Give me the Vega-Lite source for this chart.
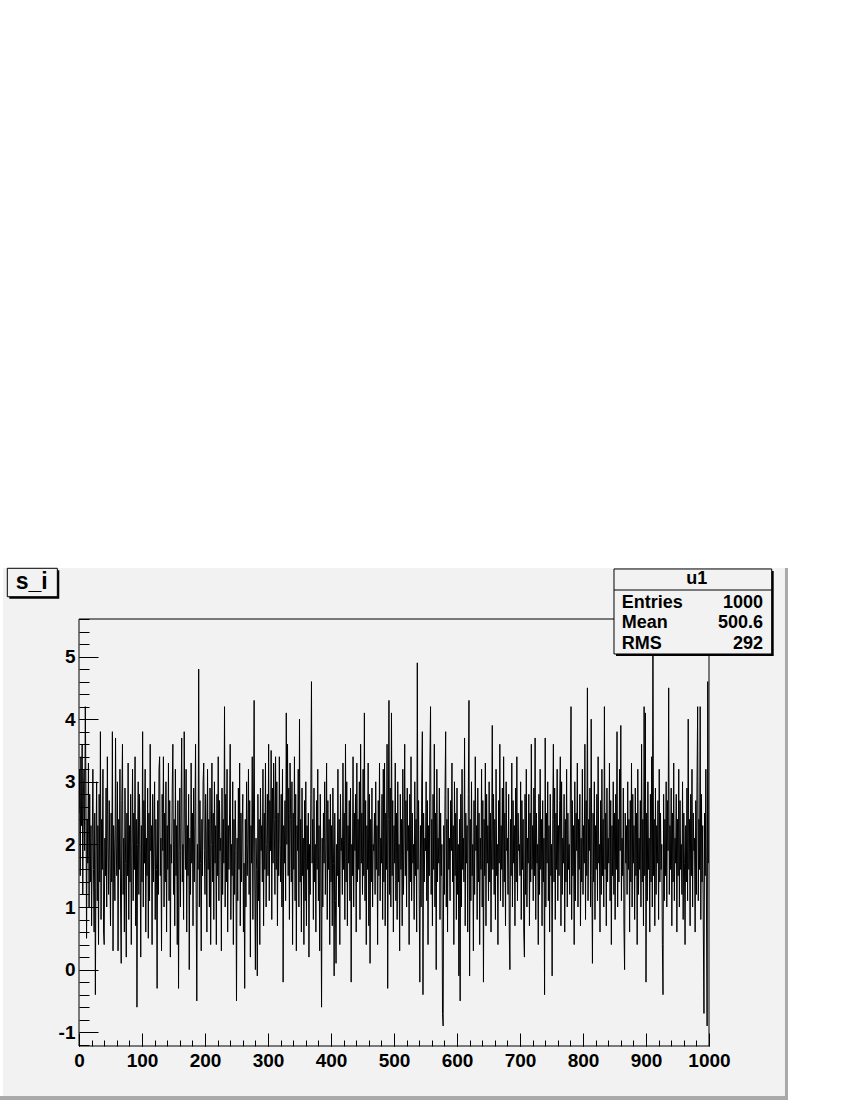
{
"$schema":"https://vega.github.io/schema/vega-lite/v6.json",
"width":630,"height":427,
"autosize":{"type":"none"},
"padding":{"left":79,"top":619,"right":141,"bottom":54},
"background":"white",
"config":{"view":{"stroke":null},"text":{"font":"Liberation Sans","fontWeight":"bold","color":"black"}},
"data":{"values":[
{"i":0,"s":2.5},{"i":1,"s":3.2},{"i":2,"s":1.5},{"i":3,"s":3.4},{"i":4,"s":2.3},{"i":5,"s":3.6},{"i":6,"s":1.2},{"i":7,"s":2.8},{"i":8,"s":3.2},{"i":9,"s":1.9},
{"i":10,"s":4.2},{"i":11,"s":2.9},{"i":12,"s":0.5},{"i":13,"s":2.4},{"i":14,"s":1.7},{"i":15,"s":3.3},{"i":16,"s":1.0},{"i":17,"s":2.8},{"i":18,"s":1.4},{"i":19,"s":2.3},
{"i":20,"s":0.7},{"i":21,"s":2.0},{"i":22,"s":3.2},{"i":23,"s":1.6},{"i":24,"s":0.6},{"i":25,"s":2.5},{"i":26,"s":-0.4},{"i":27,"s":1.9},{"i":28,"s":3.0},{"i":29,"s":1.1},
{"i":30,"s":2.3},{"i":31,"s":0.4},{"i":32,"s":2.8},{"i":33,"s":1.4},{"i":34,"s":3.8},{"i":35,"s":0.8},{"i":36,"s":2.4},{"i":37,"s":1.6},{"i":38,"s":3.2},{"i":39,"s":0.6},
{"i":40,"s":0.4},{"i":41,"s":2.1},{"i":42,"s":1.5},{"i":43,"s":2.9},{"i":44,"s":1.0},{"i":45,"s":3.4},{"i":46,"s":2.0},{"i":47,"s":1.2},{"i":48,"s":2.7},{"i":49,"s":1.7},
{"i":50,"s":0.7},{"i":51,"s":2.5},{"i":52,"s":1.4},{"i":53,"s":3.8},{"i":54,"s":0.3},{"i":55,"s":2.3},{"i":56,"s":1.9},{"i":57,"s":1.1},{"i":58,"s":3.7},{"i":59,"s":2.0},
{"i":60,"s":1.5},{"i":61,"s":3.0},{"i":62,"s":0.3},{"i":63,"s":2.4},{"i":64,"s":1.6},{"i":65,"s":3.2},{"i":66,"s":1.0},{"i":67,"s":0.1},{"i":68,"s":2.7},{"i":69,"s":3.6},
{"i":70,"s":1.2},{"i":71,"s":2.1},{"i":72,"s":0.6},{"i":73,"s":2.9},{"i":74,"s":1.7},{"i":75,"s":0.2},{"i":76,"s":2.5},{"i":77,"s":1.5},{"i":78,"s":3.3},{"i":79,"s":0.8},
{"i":80,"s":2.3},{"i":81,"s":1.4},{"i":82,"s":2.8},{"i":83,"s":0.4},{"i":84,"s":2.0},{"i":85,"s":3.2},{"i":86,"s":1.1},{"i":87,"s":2.5},{"i":88,"s":1.6},{"i":89,"s":3.4},
{"i":90,"s":0.7},{"i":91,"s":2.4},{"i":92,"s":-0.6},{"i":93,"s":2.0},{"i":94,"s":3.0},{"i":95,"s":1.2},{"i":96,"s":2.8},{"i":97,"s":1.9},{"i":98,"s":0.2},{"i":99,"s":2.3},
{"i":100,"s":1.4},{"i":101,"s":3.8},{"i":102,"s":1.0},{"i":103,"s":2.7},{"i":104,"s":1.7},{"i":105,"s":3.2},{"i":106,"s":0.6},{"i":107,"s":2.1},{"i":108,"s":1.5},{"i":109,"s":2.9},
{"i":110,"s":0.5},{"i":111,"s":2.5},{"i":112,"s":1.1},{"i":113,"s":3.6},{"i":114,"s":1.9},{"i":115,"s":2.3},{"i":116,"s":0.4},{"i":117,"s":2.8},{"i":118,"s":1.4},{"i":119,"s":2.0},
{"i":120,"s":3.0},{"i":121,"s":0.8},{"i":122,"s":2.4},{"i":123,"s":1.6},{"i":124,"s":-0.3},{"i":125,"s":2.7},{"i":126,"s":1.2},{"i":127,"s":3.2},{"i":128,"s":3.4},{"i":129,"s":1.5},
{"i":130,"s":2.1},{"i":131,"s":0.3},{"i":132,"s":2.8},{"i":133,"s":1.9},{"i":134,"s":3.4},{"i":135,"s":1.0},{"i":136,"s":2.5},{"i":137,"s":1.4},{"i":138,"s":3.0},{"i":139,"s":0.6},
{"i":140,"s":2.3},{"i":141,"s":1.6},{"i":142,"s":3.3},{"i":143,"s":1.1},{"i":144,"s":2.7},{"i":145,"s":0.2},{"i":146,"s":2.0},{"i":147,"s":1.7},{"i":148,"s":2.9},{"i":149,"s":3.6},
{"i":150,"s":1.2},{"i":151,"s":2.4},{"i":152,"s":0.7},{"i":153,"s":3.2},{"i":154,"s":1.5},{"i":155,"s":2.3},{"i":156,"s":0.4},{"i":157,"s":2.7},{"i":158,"s":-0.3},{"i":159,"s":1.9},
{"i":160,"s":2.9},{"i":161,"s":1.0},{"i":162,"s":2.5},{"i":163,"s":3.7},{"i":164,"s":1.4},{"i":165,"s":2.0},{"i":166,"s":0.8},{"i":167,"s":3.8},{"i":168,"s":2.4},{"i":169,"s":1.6},
{"i":170,"s":3.2},{"i":171,"s":0.6},{"i":172,"s":2.3},{"i":173,"s":1.5},{"i":174,"s":2.8},{"i":175,"s":0.0},{"i":176,"s":2.1},{"i":177,"s":1.2},{"i":178,"s":3.3},{"i":179,"s":1.7},
{"i":180,"s":2.5},{"i":181,"s":0.7},{"i":182,"s":2.9},{"i":183,"s":1.4},{"i":184,"s":2.3},{"i":185,"s":3.6},{"i":186,"s":1.1},{"i":187,"s":-0.5},{"i":188,"s":2.0},{"i":189,"s":1.6},
{"i":190,"s":4.8},{"i":191,"s":1.0},{"i":192,"s":2.7},{"i":193,"s":1.7},{"i":194,"s":0.3},{"i":195,"s":2.4},{"i":196,"s":1.5},{"i":197,"s":3.0},{"i":198,"s":3.3},{"i":199,"s":1.9},
{"i":200,"s":1.2},{"i":201,"s":2.8},{"i":202,"s":2.1},{"i":203,"s":0.6},{"i":204,"s":3.2},{"i":205,"s":1.6},{"i":206,"s":2.4},{"i":207,"s":1.0},{"i":208,"s":2.9},{"i":209,"s":0.4},
{"i":210,"s":2.0},{"i":211,"s":3.3},{"i":212,"s":1.4},{"i":213,"s":2.5},{"i":214,"s":0.8},{"i":215,"s":3.0},{"i":216,"s":1.7},{"i":217,"s":2.3},{"i":218,"s":0.4},{"i":219,"s":2.8},
{"i":220,"s":1.5},{"i":221,"s":3.4},{"i":222,"s":1.1},{"i":223,"s":2.7},{"i":224,"s":1.9},{"i":225,"s":2.1},{"i":226,"s":0.3},{"i":227,"s":2.9},{"i":228,"s":1.2},{"i":229,"s":2.4},
{"i":230,"s":1.7},{"i":231,"s":4.2},{"i":232,"s":1.0},{"i":233,"s":2.8},{"i":234,"s":1.4},{"i":235,"s":3.2},{"i":236,"s":0.6},{"i":237,"s":2.3},{"i":238,"s":1.6},{"i":239,"s":2.5},
{"i":240,"s":3.6},{"i":241,"s":0.8},{"i":242,"s":2.0},{"i":243,"s":1.5},{"i":244,"s":3.0},{"i":245,"s":0.4},{"i":246,"s":2.4},{"i":247,"s":1.2},{"i":248,"s":2.7},{"i":249,"s":1.9},
{"i":250,"s":-0.5},{"i":251,"s":2.1},{"i":252,"s":1.1},{"i":253,"s":2.9},{"i":254,"s":1.6},{"i":255,"s":3.3},{"i":256,"s":0.7},{"i":257,"s":2.5},{"i":258,"s":1.4},{"i":259,"s":2.3},
{"i":260,"s":2.8},{"i":261,"s":0.6},{"i":262,"s":1.7},{"i":263,"s":-0.3},{"i":264,"s":2.4},{"i":265,"s":1.0},{"i":266,"s":3.0},{"i":267,"s":1.5},{"i":268,"s":2.0},{"i":269,"s":3.2},
{"i":270,"s":1.2},{"i":271,"s":2.7},{"i":272,"s":0.2},{"i":273,"s":2.3},{"i":274,"s":1.7},{"i":275,"s":3.4},{"i":276,"s":0.8},{"i":277,"s":2.5},{"i":278,"s":4.3},{"i":279,"s":1.4},
{"i":280,"s":0.0},{"i":281,"s":2.1},{"i":282,"s":1.6},{"i":283,"s":-0.1},{"i":284,"s":2.8},{"i":285,"s":1.1},{"i":286,"s":2.4},{"i":287,"s":0.4},{"i":288,"s":2.9},{"i":289,"s":1.9},
{"i":290,"s":2.3},{"i":291,"s":1.4},{"i":292,"s":3.2},{"i":293,"s":0.7},{"i":294,"s":2.5},{"i":295,"s":1.6},{"i":296,"s":3.3},{"i":297,"s":1.0},{"i":298,"s":2.0},{"i":299,"s":2.8},
{"i":300,"s":1.5},{"i":301,"s":3.6},{"i":302,"s":1.1},{"i":303,"s":2.7},{"i":304,"s":1.9},{"i":305,"s":3.5},{"i":306,"s":0.8},{"i":307,"s":2.9},{"i":308,"s":1.7},{"i":309,"s":3.3},
{"i":310,"s":2.4},{"i":311,"s":1.2},{"i":312,"s":3.4},{"i":313,"s":1.6},{"i":314,"s":3.0},{"i":315,"s":0.7},{"i":316,"s":2.5},{"i":317,"s":1.5},{"i":318,"s":3.4},{"i":319,"s":2.0},
{"i":320,"s":1.4},{"i":321,"s":2.8},{"i":322,"s":1.0},{"i":323,"s":3.2},{"i":324,"s":-0.2},{"i":325,"s":2.3},{"i":326,"s":1.7},{"i":327,"s":2.7},{"i":328,"s":1.1},{"i":329,"s":4.1},
{"i":330,"s":2.0},{"i":331,"s":3.6},{"i":332,"s":1.5},{"i":333,"s":2.9},{"i":334,"s":0.8},{"i":335,"s":3.3},{"i":336,"s":2.4},{"i":337,"s":1.4},{"i":338,"s":3.0},{"i":339,"s":0.4},
{"i":340,"s":2.5},{"i":341,"s":1.6},{"i":342,"s":3.4},{"i":343,"s":1.1},{"i":344,"s":2.8},{"i":345,"s":0.3},{"i":346,"s":2.3},{"i":347,"s":1.9},{"i":348,"s":3.2},{"i":349,"s":1.0},
{"i":350,"s":4.0},{"i":351,"s":1.4},{"i":352,"s":2.4},{"i":353,"s":0.6},{"i":354,"s":2.9},{"i":355,"s":1.5},{"i":356,"s":2.1},{"i":357,"s":0.4},{"i":358,"s":2.7},{"i":359,"s":1.1},
{"i":360,"s":3.0},{"i":361,"s":0.7},{"i":362,"s":2.3},{"i":363,"s":1.6},{"i":364,"s":2.5},{"i":365,"s":0.2},{"i":366,"s":2.0},{"i":367,"s":1.2},{"i":368,"s":2.8},{"i":369,"s":4.6},
{"i":370,"s":1.7},{"i":371,"s":2.4},{"i":372,"s":0.8},{"i":373,"s":2.9},{"i":374,"s":1.4},{"i":375,"s":2.0},{"i":376,"s":0.6},{"i":377,"s":2.7},{"i":378,"s":1.6},{"i":379,"s":3.2},
{"i":380,"s":1.1},{"i":381,"s":2.3},{"i":382,"s":0.3},{"i":383,"s":2.8},{"i":384,"s":1.5},{"i":385,"s":-0.6},{"i":386,"s":2.1},{"i":387,"s":1.0},{"i":388,"s":2.5},{"i":389,"s":1.7},
{"i":390,"s":3.0},{"i":391,"s":1.2},{"i":392,"s":2.0},{"i":393,"s":3.3},{"i":394,"s":0.8},{"i":395,"s":2.7},{"i":396,"s":1.6},{"i":397,"s":2.4},{"i":398,"s":0.4},{"i":399,"s":2.8},
{"i":400,"s":1.4},{"i":401,"s":2.3},{"i":402,"s":0.7},{"i":403,"s":2.9},{"i":404,"s":1.7},{"i":405,"s":-0.1},{"i":406,"s":2.5},{"i":407,"s":1.1},{"i":408,"s":0.1},{"i":409,"s":2.0},
{"i":410,"s":1.5},{"i":411,"s":3.2},{"i":412,"s":1.0},{"i":413,"s":2.4},{"i":414,"s":0.4},{"i":415,"s":2.8},{"i":416,"s":1.9},{"i":417,"s":2.1},{"i":418,"s":1.2},{"i":419,"s":3.3},
{"i":420,"s":1.6},{"i":421,"s":2.5},{"i":422,"s":0.8},{"i":423,"s":3.6},{"i":424,"s":1.4},{"i":425,"s":3.0},{"i":426,"s":0.7},{"i":427,"s":2.3},{"i":428,"s":1.7},{"i":429,"s":2.7},
{"i":430,"s":1.1},{"i":431,"s":2.9},{"i":432,"s":-0.2},{"i":433,"s":2.0},{"i":434,"s":1.5},{"i":435,"s":3.4},{"i":436,"s":1.0},{"i":437,"s":2.5},{"i":438,"s":1.9},{"i":439,"s":2.8},
{"i":440,"s":0.6},{"i":441,"s":3.3},{"i":442,"s":1.4},{"i":443,"s":2.4},{"i":444,"s":1.6},{"i":445,"s":3.0},{"i":446,"s":0.8},{"i":447,"s":3.6},{"i":448,"s":1.7},{"i":449,"s":2.5},
{"i":450,"s":1.2},{"i":451,"s":3.2},{"i":452,"s":1.5},{"i":453,"s":4.1},{"i":454,"s":1.1},{"i":455,"s":2.7},{"i":456,"s":0.4},{"i":457,"s":2.3},{"i":458,"s":1.6},{"i":459,"s":3.3},
{"i":460,"s":0.7},{"i":461,"s":2.8},{"i":462,"s":0.1},{"i":463,"s":2.4},{"i":464,"s":1.4},{"i":465,"s":2.9},{"i":466,"s":1.0},{"i":467,"s":2.0},{"i":468,"s":1.9},{"i":469,"s":2.5},
{"i":470,"s":1.2},{"i":471,"s":3.0},{"i":472,"s":1.6},{"i":473,"s":2.3},{"i":474,"s":0.4},{"i":475,"s":2.7},{"i":476,"s":1.5},{"i":477,"s":3.3},{"i":478,"s":1.1},{"i":479,"s":2.1},
{"i":480,"s":1.7},{"i":481,"s":2.8},{"i":482,"s":0.8},{"i":483,"s":3.2},{"i":484,"s":1.4},{"i":485,"s":3.3},{"i":486,"s":0.7},{"i":487,"s":2.5},{"i":488,"s":1.6},{"i":489,"s":3.6},
{"i":490,"s":-0.3},{"i":491,"s":2.4},{"i":492,"s":4.3},{"i":493,"s":1.2},{"i":494,"s":2.9},{"i":495,"s":1.0},{"i":496,"s":4.1},{"i":497,"s":1.5},{"i":498,"s":2.7},{"i":499,"s":0.6},
{"i":500,"s":2.3},{"i":501,"s":1.7},{"i":502,"s":3.3},{"i":503,"s":1.1},{"i":504,"s":2.5},{"i":505,"s":0.8},{"i":506,"s":3.0},{"i":507,"s":1.4},{"i":508,"s":2.0},{"i":509,"s":0.3},
{"i":510,"s":2.8},{"i":511,"s":1.6},{"i":512,"s":2.4},{"i":513,"s":0.7},{"i":514,"s":3.2},{"i":515,"s":1.2},{"i":516,"s":2.1},{"i":517,"s":3.6},{"i":518,"s":1.5},{"i":519,"s":2.7},
{"i":520,"s":1.0},{"i":521,"s":2.9},{"i":522,"s":1.9},{"i":523,"s":2.3},{"i":524,"s":0.4},{"i":525,"s":2.8},{"i":526,"s":1.4},{"i":527,"s":3.4},{"i":528,"s":1.1},{"i":529,"s":2.5},
{"i":530,"s":1.7},{"i":531,"s":2.0},{"i":532,"s":0.8},{"i":533,"s":3.0},{"i":534,"s":1.5},{"i":535,"s":2.4},{"i":536,"s":0.6},{"i":537,"s":4.9},{"i":538,"s":1.6},{"i":539,"s":2.7},
{"i":540,"s":1.2},{"i":541,"s":-0.2},{"i":542,"s":2.3},{"i":543,"s":1.0},{"i":544,"s":2.9},{"i":545,"s":3.8},{"i":546,"s":-0.4},{"i":547,"s":2.5},{"i":548,"s":1.4},{"i":549,"s":2.1},
{"i":550,"s":1.9},{"i":551,"s":3.0},{"i":552,"s":1.1},{"i":553,"s":2.7},{"i":554,"s":0.4},{"i":555,"s":2.3},{"i":556,"s":1.5},{"i":557,"s":3.3},{"i":558,"s":4.2},{"i":559,"s":1.2},
{"i":560,"s":2.4},{"i":561,"s":0.7},{"i":562,"s":2.8},{"i":563,"s":1.6},{"i":564,"s":3.6},{"i":565,"s":1.0},{"i":566,"s":2.5},{"i":567,"s":0.0},{"i":568,"s":3.2},{"i":569,"s":1.4},
{"i":570,"s":2.1},{"i":571,"s":1.7},{"i":572,"s":2.9},{"i":573,"s":0.8},{"i":574,"s":2.5},{"i":575,"s":1.5},{"i":576,"s":2.0},{"i":577,"s":-0.7},{"i":578,"s":-0.9},{"i":579,"s":2.3},
{"i":580,"s":1.2},{"i":581,"s":2.8},{"i":582,"s":3.8},{"i":583,"s":1.0},{"i":584,"s":2.4},{"i":585,"s":0.6},{"i":586,"s":2.9},{"i":587,"s":1.6},{"i":588,"s":2.1},{"i":589,"s":1.1},
{"i":590,"s":2.7},{"i":591,"s":1.9},{"i":592,"s":3.3},{"i":593,"s":1.4},{"i":594,"s":2.3},{"i":595,"s":0.4},{"i":596,"s":3.0},{"i":597,"s":1.5},{"i":598,"s":2.5},{"i":599,"s":0.8},
{"i":600,"s":2.9},{"i":601,"s":1.2},{"i":602,"s":2.0},{"i":603,"s":-0.1},{"i":604,"s":2.4},{"i":605,"s":-0.5},{"i":606,"s":2.8},{"i":607,"s":1.0},{"i":608,"s":3.2},{"i":609,"s":1.6},
{"i":610,"s":2.1},{"i":611,"s":1.4},{"i":612,"s":3.7},{"i":613,"s":0.7},{"i":614,"s":2.5},{"i":615,"s":1.7},{"i":616,"s":2.3},{"i":617,"s":0.6},{"i":618,"s":2.8},{"i":619,"s":4.3},
{"i":620,"s":-0.1},{"i":621,"s":2.4},{"i":622,"s":1.1},{"i":623,"s":3.0},{"i":624,"s":1.5},{"i":625,"s":2.0},{"i":626,"s":0.3},{"i":627,"s":2.7},{"i":628,"s":1.2},{"i":629,"s":3.4},
{"i":630,"s":1.9},{"i":631,"s":2.3},{"i":632,"s":0.8},{"i":633,"s":2.9},{"i":634,"s":1.4},{"i":635,"s":2.5},{"i":636,"s":0.4},{"i":637,"s":2.1},{"i":638,"s":1.6},{"i":639,"s":3.2},
{"i":640,"s":1.0},{"i":641,"s":2.7},{"i":642,"s":-0.2},{"i":643,"s":2.4},{"i":644,"s":1.5},{"i":645,"s":3.3},{"i":646,"s":0.7},{"i":647,"s":2.8},{"i":648,"s":1.7},{"i":649,"s":2.3},
{"i":650,"s":1.1},{"i":651,"s":3.0},{"i":652,"s":1.4},{"i":653,"s":2.5},{"i":654,"s":0.6},{"i":655,"s":2.1},{"i":656,"s":3.9},{"i":657,"s":1.6},{"i":658,"s":2.8},{"i":659,"s":1.2},
{"i":660,"s":2.4},{"i":661,"s":0.8},{"i":662,"s":3.2},{"i":663,"s":1.5},{"i":664,"s":2.0},{"i":665,"s":0.4},{"i":666,"s":2.7},{"i":667,"s":1.7},{"i":668,"s":3.6},{"i":669,"s":1.1},
{"i":670,"s":2.3},{"i":671,"s":1.6},{"i":672,"s":2.9},{"i":673,"s":1.0},{"i":674,"s":3.4},{"i":675,"s":1.4},{"i":676,"s":2.5},{"i":677,"s":0.7},{"i":678,"s":3.0},{"i":679,"s":1.9},
{"i":680,"s":2.1},{"i":681,"s":1.2},{"i":682,"s":2.8},{"i":683,"s":0.6},{"i":684,"s":0.0},{"i":685,"s":2.4},{"i":686,"s":1.5},{"i":687,"s":3.3},{"i":688,"s":1.0},{"i":689,"s":2.7},
{"i":690,"s":1.7},{"i":691,"s":2.3},{"i":692,"s":0.7},{"i":693,"s":2.9},{"i":694,"s":1.4},{"i":695,"s":3.4},{"i":696,"s":1.1},{"i":697,"s":2.5},{"i":698,"s":1.9},{"i":699,"s":2.0},
{"i":700,"s":1.5},{"i":701,"s":3.0},{"i":702,"s":0.8},{"i":703,"s":2.7},{"i":704,"s":1.6},{"i":705,"s":2.4},{"i":706,"s":0.6},{"i":707,"s":0.2},{"i":708,"s":2.8},{"i":709,"s":1.2},
{"i":710,"s":3.2},{"i":711,"s":1.0},{"i":712,"s":2.1},{"i":713,"s":1.7},{"i":714,"s":2.8},{"i":715,"s":0.7},{"i":716,"s":2.5},{"i":717,"s":1.4},{"i":718,"s":3.6},{"i":719,"s":1.6},
{"i":720,"s":2.3},{"i":721,"s":1.1},{"i":722,"s":2.9},{"i":723,"s":1.5},{"i":724,"s":3.7},{"i":725,"s":0.8},{"i":726,"s":2.5},{"i":727,"s":1.7},{"i":728,"s":2.0},{"i":729,"s":0.4},
{"i":730,"s":2.8},{"i":731,"s":1.2},{"i":732,"s":3.2},{"i":733,"s":1.6},{"i":734,"s":2.4},{"i":735,"s":0.7},{"i":736,"s":2.7},{"i":737,"s":1.4},{"i":738,"s":2.1},{"i":739,"s":-0.4},
{"i":740,"s":3.7},{"i":741,"s":1.0},{"i":742,"s":2.5},{"i":743,"s":1.7},{"i":744,"s":3.0},{"i":745,"s":1.1},{"i":746,"s":2.3},{"i":747,"s":0.6},{"i":748,"s":2.8},{"i":749,"s":1.5},
{"i":750,"s":2.0},{"i":751,"s":-0.1},{"i":752,"s":2.4},{"i":753,"s":3.6},{"i":754,"s":1.4},{"i":755,"s":2.9},{"i":756,"s":0.8},{"i":757,"s":2.5},{"i":758,"s":1.6},{"i":759,"s":3.2},
{"i":760,"s":1.1},{"i":761,"s":2.3},{"i":762,"s":1.5},{"i":763,"s":2.7},{"i":764,"s":3.4},{"i":765,"s":0.7},{"i":766,"s":3.0},{"i":767,"s":1.2},{"i":768,"s":2.1},{"i":769,"s":1.7},
{"i":770,"s":2.8},{"i":771,"s":0.6},{"i":772,"s":2.4},{"i":773,"s":1.4},{"i":774,"s":3.2},{"i":775,"s":1.0},{"i":776,"s":2.5},{"i":777,"s":1.6},{"i":778,"s":2.0},{"i":779,"s":1.2},
{"i":780,"s":2.9},{"i":781,"s":4.2},{"i":782,"s":0.8},{"i":783,"s":2.7},{"i":784,"s":1.5},{"i":785,"s":2.3},{"i":786,"s":0.4},{"i":787,"s":3.0},{"i":788,"s":1.1},{"i":789,"s":2.5},
{"i":790,"s":1.9},{"i":791,"s":3.3},{"i":792,"s":1.0},{"i":793,"s":2.4},{"i":794,"s":1.6},{"i":795,"s":2.8},{"i":796,"s":0.7},{"i":797,"s":2.1},{"i":798,"s":1.4},{"i":799,"s":3.2},
{"i":800,"s":1.2},{"i":801,"s":2.3},{"i":802,"s":1.7},{"i":803,"s":3.6},{"i":804,"s":0.8},{"i":805,"s":2.7},{"i":806,"s":1.5},{"i":807,"s":4.5},{"i":808,"s":1.1},{"i":809,"s":2.4},
{"i":810,"s":1.9},{"i":811,"s":2.9},{"i":812,"s":1.0},{"i":813,"s":4.0},{"i":814,"s":1.5},{"i":815,"s":0.1},{"i":816,"s":2.5},{"i":817,"s":1.4},{"i":818,"s":3.0},{"i":819,"s":0.8},
{"i":820,"s":2.3},{"i":821,"s":1.6},{"i":822,"s":2.8},{"i":823,"s":1.1},{"i":824,"s":3.4},{"i":825,"s":1.7},{"i":826,"s":2.0},{"i":827,"s":0.6},{"i":828,"s":2.7},{"i":829,"s":1.2},
{"i":830,"s":3.2},{"i":831,"s":1.5},{"i":832,"s":2.4},{"i":833,"s":1.0},{"i":834,"s":4.2},{"i":835,"s":1.6},{"i":836,"s":2.5},{"i":837,"s":0.7},{"i":838,"s":2.9},{"i":839,"s":1.4},
{"i":840,"s":2.1},{"i":841,"s":1.7},{"i":842,"s":3.3},{"i":843,"s":1.1},{"i":844,"s":2.7},{"i":845,"s":0.4},{"i":846,"s":2.3},{"i":847,"s":1.5},{"i":848,"s":3.0},{"i":849,"s":1.2},
{"i":850,"s":2.5},{"i":851,"s":0.8},{"i":852,"s":2.8},{"i":853,"s":1.6},{"i":854,"s":3.8},{"i":855,"s":1.0},{"i":856,"s":2.4},{"i":857,"s":1.4},{"i":858,"s":3.2},{"i":859,"s":1.9},
{"i":860,"s":3.9},{"i":861,"s":1.1},{"i":862,"s":2.1},{"i":863,"s":1.5},{"i":864,"s":2.9},{"i":865,"s":0.7},{"i":866,"s":0.0},{"i":867,"s":2.5},{"i":868,"s":1.7},{"i":869,"s":2.3},
{"i":870,"s":1.2},{"i":871,"s":3.0},{"i":872,"s":1.6},{"i":873,"s":2.4},{"i":874,"s":0.6},{"i":875,"s":2.7},{"i":876,"s":1.4},{"i":877,"s":3.3},{"i":878,"s":1.0},{"i":879,"s":2.8},
{"i":880,"s":1.7},{"i":881,"s":2.3},{"i":882,"s":0.8},{"i":883,"s":2.9},{"i":884,"s":1.5},{"i":885,"s":2.5},{"i":886,"s":0.4},{"i":887,"s":3.2},{"i":888,"s":1.2},{"i":889,"s":2.1},
{"i":890,"s":1.6},{"i":891,"s":2.7},{"i":892,"s":1.0},{"i":893,"s":3.6},{"i":894,"s":1.4},{"i":895,"s":2.4},{"i":896,"s":0.7},{"i":897,"s":4.2},{"i":898,"s":1.5},{"i":899,"s":4.1},
{"i":900,"s":-0.2},{"i":901,"s":2.5},{"i":902,"s":1.1},{"i":903,"s":3.0},{"i":904,"s":1.6},{"i":905,"s":2.1},{"i":906,"s":0.6},{"i":907,"s":2.8},{"i":908,"s":1.4},{"i":909,"s":3.4},
{"i":910,"s":1.0},{"i":911,"s":5.5},{"i":912,"s":1.5},{"i":913,"s":2.4},{"i":914,"s":0.7},{"i":915,"s":2.9},{"i":916,"s":1.2},{"i":917,"s":2.3},{"i":918,"s":1.7},{"i":919,"s":2.7},
{"i":920,"s":0.8},{"i":921,"s":3.2},{"i":922,"s":1.4},{"i":923,"s":2.5},{"i":924,"s":1.6},{"i":925,"s":2.0},{"i":926,"s":0.4},{"i":927,"s":-0.4},{"i":928,"s":2.8},{"i":929,"s":1.1},
{"i":930,"s":2.4},{"i":931,"s":1.5},{"i":932,"s":3.0},{"i":933,"s":1.0},{"i":934,"s":2.7},{"i":935,"s":1.9},{"i":936,"s":4.5},{"i":937,"s":1.2},{"i":938,"s":2.3},{"i":939,"s":1.6},
{"i":940,"s":2.9},{"i":941,"s":0.7},{"i":942,"s":2.5},{"i":943,"s":1.4},{"i":944,"s":3.3},{"i":945,"s":1.1},{"i":946,"s":2.1},{"i":947,"s":1.7},{"i":948,"s":2.8},{"i":949,"s":0.6},
{"i":950,"s":2.4},{"i":951,"s":1.5},{"i":952,"s":3.2},{"i":953,"s":1.0},{"i":954,"s":2.7},{"i":955,"s":1.6},{"i":956,"s":2.0},{"i":957,"s":1.2},{"i":958,"s":3.0},{"i":959,"s":0.8},
{"i":960,"s":2.5},{"i":961,"s":1.7},{"i":962,"s":0.4},{"i":963,"s":2.3},{"i":964,"s":1.4},{"i":965,"s":2.9},{"i":966,"s":1.1},{"i":967,"s":4.0},{"i":968,"s":1.6},{"i":969,"s":2.4},
{"i":970,"s":0.7},{"i":971,"s":2.8},{"i":972,"s":1.5},{"i":973,"s":3.2},{"i":974,"s":1.0},{"i":975,"s":2.5},{"i":976,"s":1.9},{"i":977,"s":2.1},{"i":978,"s":0.6},{"i":979,"s":2.7},
{"i":980,"s":1.2},{"i":981,"s":3.0},{"i":982,"s":4.2},{"i":983,"s":1.1},{"i":984,"s":2.4},{"i":985,"s":1.6},{"i":986,"s":4.2},{"i":987,"s":0.8},{"i":988,"s":2.8},{"i":989,"s":1.4},
{"i":990,"s":2.3},{"i":991,"s":0.6},{"i":992,"s":-0.7},{"i":993,"s":2.5},{"i":994,"s":1.5},{"i":995,"s":3.2},{"i":996,"s":1.0},{"i":997,"s":-0.9},{"i":998,"s":4.6},{"i":999,"s":1.7}
]},
"resolve":{"axis":{"x":"independent","y":"independent"}},
"layer":[
{"data":{"values":[{}]},
 "mark":{"type":"rect","fill":"#f2f2f2","clip":false},
 "encoding":{
  "x":{"datum":-120.6,"type":"quantitative","scale":{"domain":[0,1000],"nice":false,"zero":false},
   "axis":{"orient":"bottom","values":[0,20,40,60,80,100,120,140,160,180,200,220,240,260,280,300,320,340,360,380,400,420,440,460,480,500,520,540,560,580,600,620,640,660,680,700,720,740,760,780,800,820,840,860,880,900,920,940,960,980,1000],"tickSize":-6,"tickColor":"black","tickWidth":1,"labels":false,"domain":false,"grid":false,"title":null,"zindex":1}},
  "x2":{"datum":1120.6},
  "y":{"datum":6.415,"type":"quantitative","scale":{"domain":[-1.22,5.6],"nice":false,"zero":false},
   "axis":{"orient":"left","values":[-1.2,-1,-0.8,-0.6,-0.4,-0.2,0,0.2,0.4,0.6,0.8,1,1.2,1.4,1.6,1.8,2,2.2,2.4,2.6,2.8,3,3.2,3.4,3.6,3.8,4,4.2,4.4,4.6,4.8,5,5.2,5.4,5.6],"tickSize":-10,"tickColor":"black","tickWidth":1,"labels":false,"domain":false,"grid":false,"title":null,"zindex":1}},
  "y2":{"datum":-2.02}}},
{"data":{"values":[{}]},
 "mark":{"type":"rect","fill":"#aaaaaa","clip":false},
 "encoding":{
  "x":{"datum":1120.6,"type":"quantitative","axis":null},"x2":{"datum":1125.4},
  "y":{"datum":6.415,"type":"quantitative","axis":null},"y2":{"datum":-2.09}}},
{"data":{"values":[{}]},
 "mark":{"type":"rect","fill":"#aaaaaa","clip":false},
 "encoding":{
  "x":{"datum":-125.4,"type":"quantitative","axis":null},"x2":{"datum":1125.4},
  "y":{"datum":-2.02,"type":"quantitative","axis":null},"y2":{"datum":-2.09}}},
{"data":{"values":[{}]},
 "mark":{"type":"rect","fillOpacity":0,"stroke":"black","strokeWidth":1,"clip":false},
 "encoding":{
  "x":{"datum":0,"type":"quantitative",
   "axis":{"orient":"bottom","values":[0,100,200,300,400,500,600,700,800,900,1000],"tickSize":-13,"tickColor":"black","tickWidth":1,"labels":false,"domain":false,"grid":false,"title":null,"zindex":1}},
  "x2":{"datum":1000},
  "y":{"datum":-1.22,"type":"quantitative",
   "axis":{"orient":"left","values":[-1,0,1,2,3,4,5],"tickSize":-19,"tickColor":"black","tickWidth":1,"labels":false,"domain":false,"grid":false,"title":null,"zindex":1}},
  "y2":{"datum":5.6}}},
{"mark":{"type":"line","color":"black","strokeWidth":1,"clip":true},
 "encoding":{
  "x":{"field":"i","type":"quantitative",
   "axis":{"orient":"bottom","values":[0,100,200,300,400,500,600,700,800,900,1000],"labelExpr":"'' + datum.value","ticks":false,"domain":false,"grid":false,"title":null,"labelPadding":5,"labelFont":"Liberation Sans","labelFontWeight":"bold","labelFontSize":19,"labelColor":"black","labelFlush":false,"labelOverlap":false,"zindex":1}},
  "y":{"field":"s","type":"quantitative",
   "axis":{"orient":"left","values":[-1,0,1,2,3,4,5],"labelExpr":"datum.value < 0 ? '-' + (-datum.value) : '' + datum.value","ticks":false,"domain":false,"grid":false,"title":null,"labelPadding":4,"labelFont":"Liberation Sans","labelFontWeight":"bold","labelFontSize":19,"labelColor":"black","labelFlush":false,"labelOverlap":false,"zindex":1}}}},
{"data":{"values":[{}]},
 "mark":{"type":"rect","fill":"black","clip":false},
 "encoding":{
  "x":{"datum":-110.6,"type":"quantitative","axis":null},"x2":{"datum":-31.3},
  "y":{"datum":6.378,"type":"quantitative","axis":null},"y2":{"datum":5.924}}},
{"data":{"values":[{}]},
 "mark":{"type":"rect","fill":"#f2f2f2","stroke":"black","strokeWidth":1,"clip":false},
 "encoding":{
  "x":{"datum":-113.8,"type":"quantitative","axis":null},"x2":{"datum":-34.4},
  "y":{"datum":6.41,"type":"quantitative","axis":null},"y2":{"datum":5.956}}},
{"data":{"values":[{}]},
 "mark":{"type":"text","text":"s_i","fontSize":23,"align":"center","baseline":"alphabetic","clip":false},
 "encoding":{
  "x":{"datum":-75.1,"type":"quantitative","axis":null},
  "y":{"datum":6.074,"type":"quantitative","axis":null}}},
{"data":{"values":[{}]},
 "mark":{"type":"rect","fill":"black","clip":false},
 "encoding":{
  "x":{"datum":852.4,"type":"quantitative","axis":null},"x2":{"datum":1102.7},
  "y":{"datum":6.367,"type":"quantitative","axis":null},"y2":{"datum":5.009}}},
{"data":{"values":[{}]},
 "mark":{"type":"rect","fill":"#f2f2f2","stroke":"black","strokeWidth":1,"clip":false},
 "encoding":{
  "x":{"datum":849.2,"type":"quantitative","axis":null},"x2":{"datum":1099.5},
  "y":{"datum":6.399,"type":"quantitative","axis":null},"y2":{"datum":5.041}}},
{"data":{"values":[{}]},
 "mark":{"type":"rule","color":"black","strokeWidth":1,"clip":false},
 "encoding":{
  "x":{"datum":849.2,"type":"quantitative","axis":null},"x2":{"datum":1099.5},
  "y":{"datum":6.063,"type":"quantitative","axis":null}}},
{"data":{"values":[{}]},
 "mark":{"type":"text","text":"u1","fontSize":18,"align":"center","baseline":"alphabetic","clip":false},
 "encoding":{"x":{"datum":980.5,"type":"quantitative","axis":null},"y":{"datum":6.154,"type":"quantitative","axis":null}}},
{"data":{"values":[{}]},
 "mark":{"type":"text","text":"Entries","fontSize":18,"align":"left","baseline":"alphabetic","clip":false},
 "encoding":{"x":{"datum":861.4,"type":"quantitative","axis":null},"y":{"datum":5.78,"type":"quantitative","axis":null}}},
{"data":{"values":[{}]},
 "mark":{"type":"text","text":"1000","fontSize":18,"align":"right","baseline":"alphabetic","clip":false},
 "encoding":{"x":{"datum":1085.7,"type":"quantitative","axis":null},"y":{"datum":5.78,"type":"quantitative","axis":null}}},
{"data":{"values":[{}]},
 "mark":{"type":"text","text":"Mean","fontSize":18,"align":"left","baseline":"alphabetic","clip":false},
 "encoding":{"x":{"datum":861.4,"type":"quantitative","axis":null},"y":{"datum":5.451,"type":"quantitative","axis":null}}},
{"data":{"values":[{}]},
 "mark":{"type":"text","text":"500.6","fontSize":18,"align":"right","baseline":"alphabetic","clip":false},
 "encoding":{"x":{"datum":1085.7,"type":"quantitative","axis":null},"y":{"datum":5.451,"type":"quantitative","axis":null}}},
{"data":{"values":[{}]},
 "mark":{"type":"text","text":"RMS","fontSize":18,"align":"left","baseline":"alphabetic","clip":false},
 "encoding":{"x":{"datum":861.4,"type":"quantitative","axis":null},"y":{"datum":5.116,"type":"quantitative","axis":null}}},
{"data":{"values":[{}]},
 "mark":{"type":"text","text":"292","fontSize":18,"align":"right","baseline":"alphabetic","clip":false},
 "encoding":{"x":{"datum":1085.7,"type":"quantitative","axis":null},"y":{"datum":5.116,"type":"quantitative","axis":null}}}
]
}
